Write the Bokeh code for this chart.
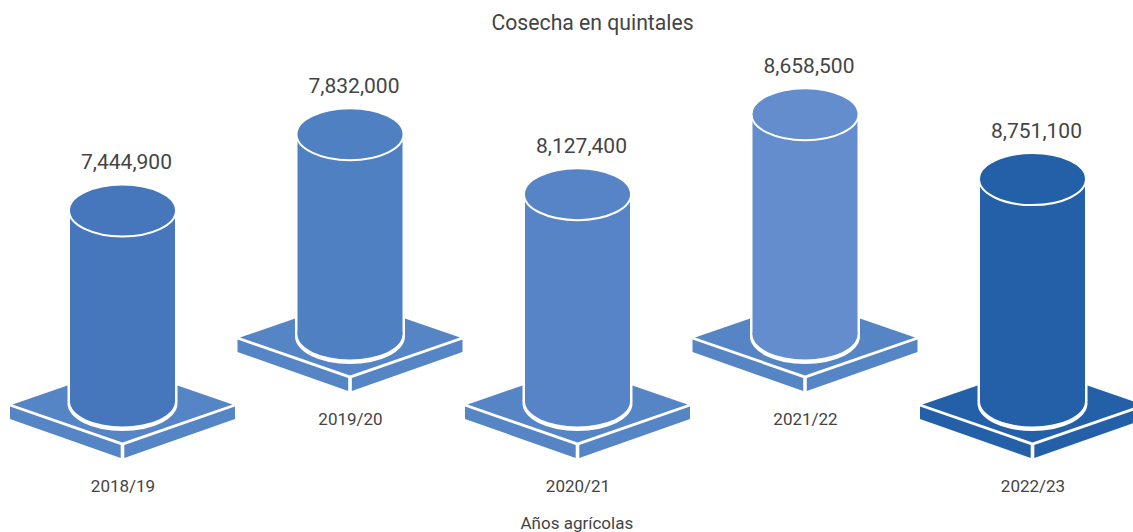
from bokeh.plotting import figure
from bokeh.models import Title, Range1d, ColumnDataSource
from bokeh.core.properties import value
from bokeh.embed import file_html
from bokeh.resources import INLINE

# ---- data ----
years = ["2018/19", "2019/20", "2020/21", "2021/22", "2022/23"]
harvest = [7444900, 7832000, 8127400, 8658500, 8751100]
body_colors = ["#4677BC", "#4F80C2", "#5784C6", "#638DCC", "#2460A8"]
base_colors = ["#5585C5", "#5585C5", "#5585C5", "#5585C5", "#2460A8"]

FONT = value("Roboto")
TEXT = "#444444"

# ---- scales: pixels per category step / per quintal ----
PX_X = 227.5
PX_Y = 24.1e-6
PAGE_X0, PAGE_W = 0, 1133
FRAME_TOP, FRAME_BOTTOM = 40, 508
PAGE_H = 532
CAT0_PAGE_X = 122.0
ZERO_PAGE_Y = 388.5


def dx(px):
    return px / PX_X


def dy(px):
    return px / PX_Y


x_start = (PAGE_X0 - CAT0_PAGE_X) / PX_X
x_end = (PAGE_X0 + PAGE_W - CAT0_PAGE_X) / PX_X
y_start = (ZERO_PAGE_Y - FRAME_BOTTOM) / PX_Y
y_end = (ZERO_PAGE_Y - FRAME_TOP) / PX_Y

p = figure(
    frame_width=PAGE_W,
    frame_height=FRAME_BOTTOM - FRAME_TOP,
    x_range=Range1d(x_start, x_end),
    y_range=Range1d(y_start, y_end),
    output_backend="svg",
    toolbar_location=None,
    min_border_left=0,
    min_border_right=0,
    min_border_top=FRAME_TOP,
    min_border_bottom=PAGE_H - FRAME_BOTTOM,
    outline_line_color=None,
    background_fill_color="white",
    border_fill_color="white",
    title=None,
)
p.axis.visible = False
p.grid.visible = False

p.add_layout(
    Title(text="Cosecha en quintales", align="left", offset=491, text_font="Roboto",
          text_font_size="21.2px", text_font_style="normal", text_color=TEXT, standoff=14),
    "above",
)
p.add_layout(
    Title(text="Años agrícolas", align="left", offset=520, text_font="Roboto",
          text_font_size="17px", text_font_style="normal", text_color=TEXT, standoff=3),
    "below",
)

# rows: even categories sit in the front row, odd ones are lifted
ROW_LIFT = 67
FOOT = 11.5
xs = list(range(len(years)))
lift = [dy(ROW_LIFT) if i % 2 else 0.0 for i in xs]
foot_y = [l - dy(FOOT) for l in lift]
top_y = [v + l for v, l in zip(harvest, lift)]

# platform (isometric slab) in pixel offsets from the cylinder foot
diamond = [(-110, 3), (0, -35), (110, 3), (0, 41)]
left_face = [(-112.5, 5), (-1.8, 43.5), (-1.8, 56.5), (-112.5, 17.5)]
right_face = [(112.5, 5), (1.8, 43.5), (1.8, 56.5), (112.5, 17.5)]

for shape in (diamond, left_face, right_face):
    p.patches(
        xs=[[x + dx(a) for a, _ in shape] for x in xs],
        ys=[[f - dy(b) for _, b in shape] for f in foot_y],
        fill_color=base_colors,
        line_color=None,
    )

src = ColumnDataSource(dict(x=xs, foot=foot_y, top=top_y, body=body_colors,
                            halo_foot=[f - dy(2) for f in foot_y]))

# white halo around the cylinder
p.vbar(x="x", width=dx(110), bottom="foot", top="top", fill_color="white", line_color=None, source=src)
p.ellipse(x="x", y="halo_foot", width=dx(110), height=dy(55), fill_color="white", line_color=None, source=src)

# cylinder body
p.vbar(x="x", width=dx(105), bottom="foot", top="top", fill_color="body", line_color=None, source=src)
p.ellipse(x="x", y="foot", width=dx(105), height=dy(50), fill_color="body", line_color=None, source=src)
p.ellipse(x="x", y="top", width=dx(107), height=dy(52), fill_color="body", line_color="white", line_width=2, source=src)

# value labels above the cylinders, year labels under the platforms
p.text(x=xs, y=top_y, text=[f"{v:,}" for v in harvest], text_font=FONT, text_font_size="21px",
       text_color=TEXT, text_align="center", text_baseline="middle", x_offset=4, y_offset=-49)
p.text(x=xs, y=foot_y, text=years, text_font=FONT, text_font_size="17px",
       text_color=TEXT, text_align="center", text_baseline="middle", x_offset=0.5, y_offset=84)

open("out.html", "w").write(file_html(p, INLINE))
